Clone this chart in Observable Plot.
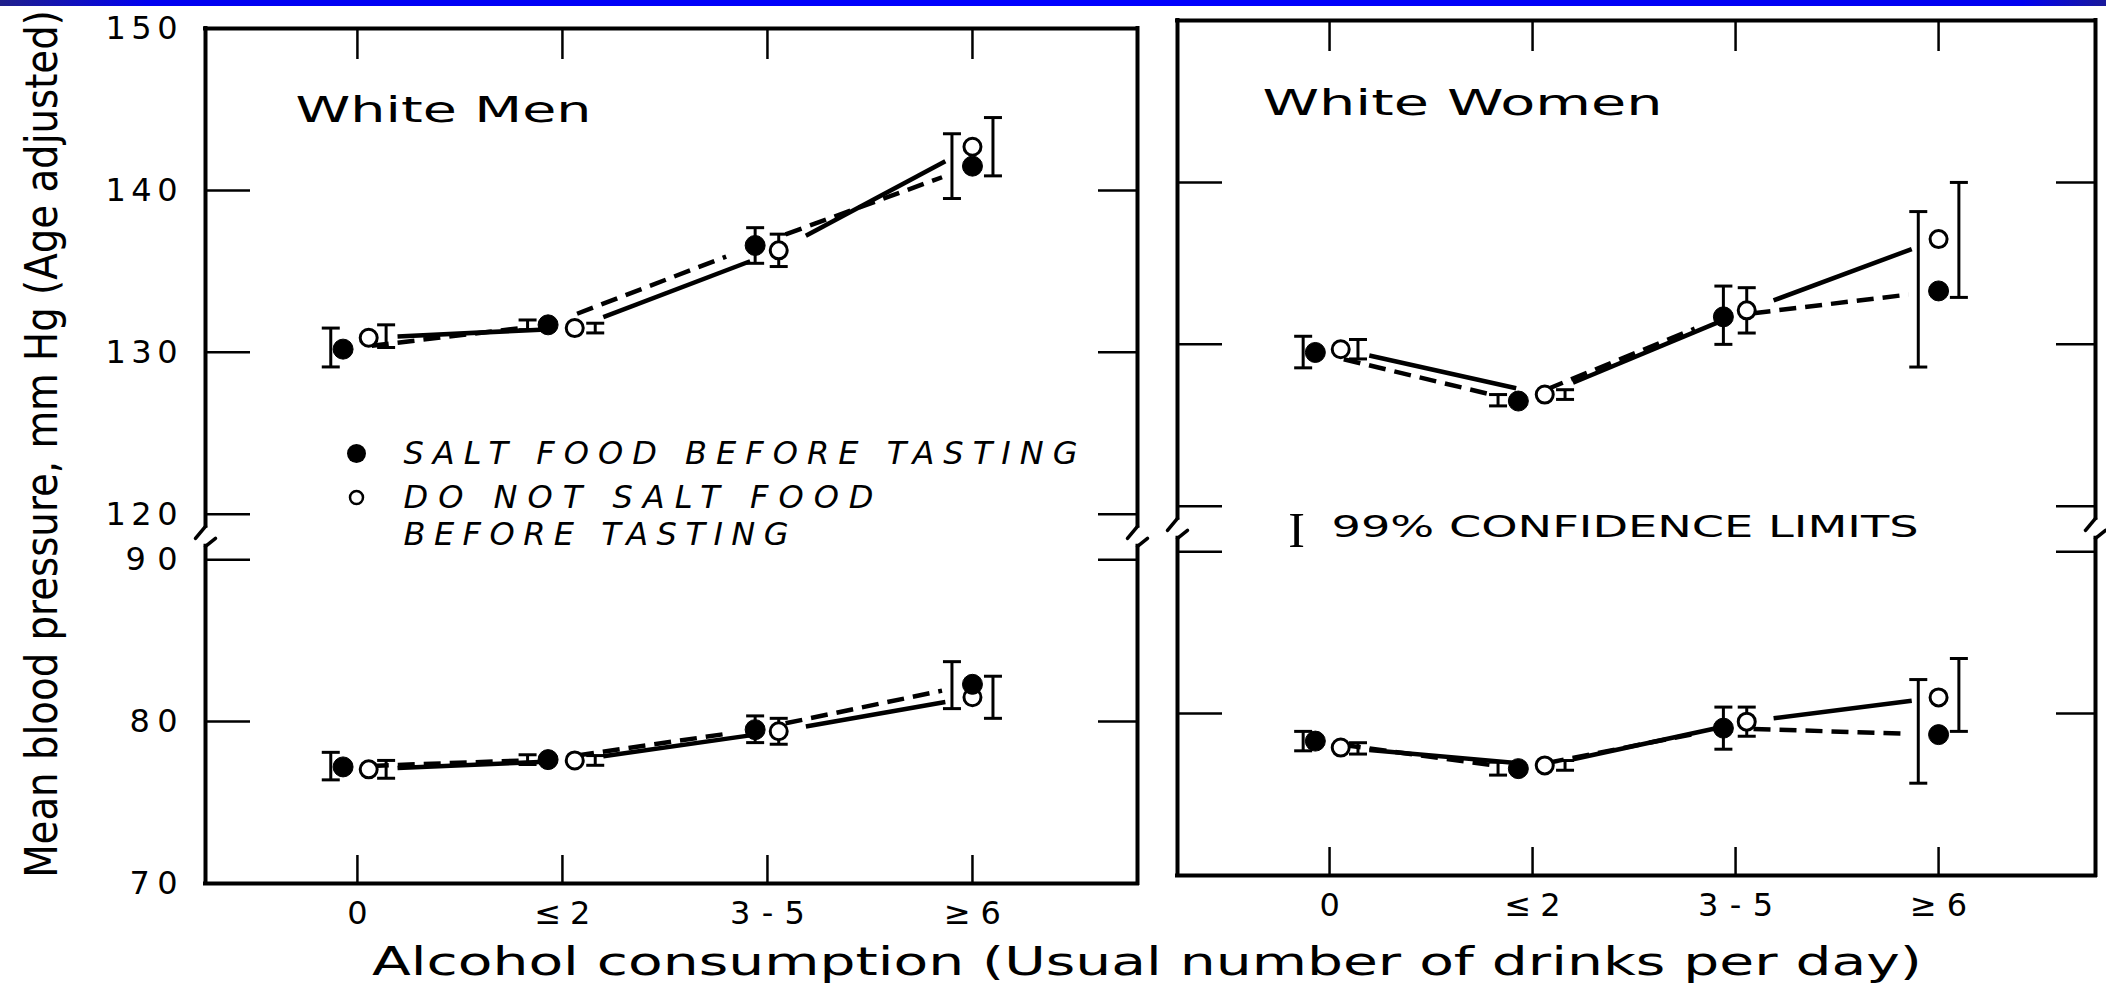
<!DOCTYPE html>
<html>
<head>
<meta charset="utf-8">
<script src="https://cdn.jsdelivr.net/npm/d3@7"></script>
<script src="https://cdn.jsdelivr.net/npm/@observablehq/plot@0.6"></script>
<style>
  html, body { margin: 0; padding: 0; background: #fff; }
  #root { position: relative; width: 2106px; height: 987px; overflow: hidden; background: #fff; }
  #bar { position: absolute; left: 0; top: 0; width: 2106px; height: 6px;
         background: linear-gradient(to right, #20208a 0%, #0000f0 7%, #0000ff 50%, #0000f0 96%, #1a1a9a 100%); }
  .panel { position: absolute; top: 0; }
  #xtitle { position: absolute; left: 0; top: 935px; }
</style>
</head>
<body>
<div id="root">
  <div id="left" class="panel" style="left:0;width:1157px"></div>
  <div id="right" class="panel" style="left:1157px;width:949px"></div>
  <div id="xtitle"></div>
  <div id="bar"></div>
</div>
<script>
// ---------------- data ----------------
const categories = ["0", "≤2", "3-5", "≥6"];
const yTickValues = [70, 80, 90, 120, 130, 140, 150];
const yTitle = "Mean blood pressure, mm Hg (Age adjusted)";
const xTitle = "Alcohol consumption (Usual number of drinks per day)";
const legendSalt = "SALT FOOD BEFORE TASTING";
const legendNoSalt1 = "DO NOT SALT FOOD";
const legendNoSalt2 = "BEFORE TASTING";
const legendCI = "99% CONFIDENCE LIMITS";

// White men, systolic (upper section)
const menSysSalt     = [130.2, 131.7, 136.6, 141.5];
const menSysSaltCI   = [[129.1, 131.5], [131.4, 132.0], [135.5, 137.7], [139.5, 143.5]];
const menSysNoSalt   = [130.9, 131.5, 136.3, 142.7];
const menSysNoSaltCI = [[130.3, 131.7], [131.2, 131.8], [135.3, 137.3], [140.9, 144.5]];
// White men, diastolic (lower section)
const menDiaSalt     = [77.2, 77.65, 79.5, 82.3];
const menDiaSaltCI   = [[76.4, 78.1], [77.35, 77.95], [78.7, 80.35], [80.8, 83.7]];
const menDiaNoSalt   = [77.05, 77.6, 79.4, 81.5];
const menDiaNoSaltCI = [[76.5, 77.6], [77.3, 77.9], [78.6, 80.2], [80.2, 82.8]];
// White women, systolic
const womenSysSalt     = [129.5, 126.5, 131.7, 133.3];
const womenSysSaltCI   = [[128.55, 130.5], [126.2, 126.9], [130.0, 133.6], [128.6, 138.2]];
const womenSysNoSalt   = [129.7, 126.9, 132.1, 136.5];
const womenSysNoSaltCI = [[129.1, 130.3], [126.6, 127.2], [130.7, 133.5], [132.9, 140.0]];
// White women, diastolic
const womenDiaSalt     = [78.3, 76.6, 79.1, 78.7];
const womenDiaSaltCI   = [[77.7, 78.9], [76.2, 77.0], [77.8, 80.4], [75.7, 82.1]];
const womenDiaNoSalt   = [77.9, 76.8, 79.5, 81.0];
const womenDiaNoSaltCI = [[77.5, 78.2], [76.5, 77.1], [78.6, 80.4], [78.9, 83.4]];

// ---------------- layout constants ----------------
const FONT = "'DejaVu Sans', Lato, sans-serif";
const BREAK_LO = 90, BREAK_HI = 120, GAP = 2.8;
const yv = v => v > (BREAK_LO + BREAK_HI) / 2 ? v - (BREAK_HI - BREAK_LO) + GAP : v;
const yr = v => v > BREAK_LO + GAP / 2 ? Math.round(v + (BREAK_HI - BREAK_LO) - GAP) : Math.round(v);
// horizontal jitter (fraction of a category step) for the two groups
const dotShift = {salt: [-0.07, -0.07, -0.06, 0.0], nosalt: [0.055, 0.06, 0.055, 0.0]};
const barShift = {salt: [-0.13, -0.17, -0.06, -0.1], nosalt: [0.14, 0.16, 0.055, 0.1]};
const textWidths = {
  "150": 72, "140": 72, "130": 72, "120": 72, "90": 52, "80": 48, "70": 48,
  "≤2": 56, "3-5": 75, "≥6": 57,
  [legendSalt]: 674, [legendNoSalt1]: 470, [legendNoSalt2]: 385
};
const stretchWidths = {"White Men": 296, "White Women": 400, [legendCI]: 587};

function rowsFor(means, cis, group) {
  return means.map((m, i) => ({i, group, mean: m, lo: cis[i][0], hi: cis[i][1]}));
}
function segmentsFor(rows) {
  const out = [];
  for (let k = 0; k < rows.length - 1; k++) {
    const a = rows[k], b = rows[k + 1];
    const xa = a.i + dotShift[a.group][a.i], xb = b.i + dotShift[b.group][b.i];
    const ya = yv(a.mean), yb = yv(b.mean), f = 0.14;
    out.push({group: a.group, x1: xa + f * (xb - xa), y1: ya + f * (yb - ya), x2: xb - f * (xb - xa), y2: yb - f * (yb - ya)});
  }
  return out;
}

function fitTexts(svg) {
  d3.select(svg).selectAll("text").each(function () {
    const t = this.textContent;
    if (this.childElementCount !== 0) return;
    if (textWidths[t] !== undefined) {
      this.setAttribute("textLength", textWidths[t]);
      this.setAttribute("lengthAdjust", "spacing");
    } else if (stretchWidths[t] !== undefined) {
      this.setAttribute("textLength", stretchWidths[t]);
      this.setAttribute("lengthAdjust", "spacingAndGlyphs");
    }
  });
}

function makePanel(cfg) {
  const {series, xDomain, width, height, mt, mb, ml, mr, extra, yLabels} = cfg;
  const rows = series.flat();
  const segs = series.flatMap(segmentsFor);
  const [xa, xb] = xDomain;
  const yTop = yv(150), yBot = 70;
  const pxX = (width - ml - mr) / (xb - xa);
  const pxY = (height - mt - mb) / (yTop - yBot);
  const bA = yv(BREAK_HI) - 12 / pxY, bB = bA - 12 / pxY, bC = bB - 8 / pxY;
  const hx = 10 / pxX, cap = 9 / pxX;
  const hooks = [xa, xb].flatMap(bx => [
    {x1: bx, y1: bA, x2: bx - hx, y2: bB},
    {x1: bx + hx, y1: bB, x2: bx, y2: bC}
  ]);
  const caps = rows.flatMap(d => {
    const bx = d.i + barShift[d.group][d.i];
    return [yv(d.lo), yv(d.hi)].map(y => ({x1: bx - cap, x2: bx + cap, y}));
  });
  const ticksV = yTickValues.map(yv);
  const xt = categories.map((c, i) => i);
  const svg = Plot.plot({
    width, height, marginTop: mt, marginBottom: mb, marginLeft: ml, marginRight: mr,
    style: `font-family:${FONT};max-width:none;overflow:visible;background:transparent;color:#000`,
    x: {domain: xDomain},
    y: {domain: [yBot, yTop]},
    marks: [
      // axes (ticks inward)
      Plot.axisY(ticksV, {anchor: "left", tickSize: -45, tickPadding: 73, strokeWidth: 2.5, fontSize: 32, label: null,
        tickFormat: yLabels ? (v => String(yr(v))) : (() => "")}),
      Plot.axisY(ticksV, {anchor: "right", tickSize: -40, strokeWidth: 2.5, label: null, tickFormat: () => ""}),
      Plot.axisX(xt, {anchor: "bottom", tickSize: -28, tickPadding: 46, strokeWidth: 2.5, fontSize: 32, label: null,
        tickFormat: i => categories[i]}),
      Plot.axisX(xt, {anchor: "top", tickSize: -30, strokeWidth: 2.5, label: null, tickFormat: () => ""}),
      // frame with axis break
      Plot.ruleY([yTop, yBot], {x1: xa, x2: xb, strokeWidth: 4, strokeLinecap: "square"}),
      Plot.ruleX([xa, xb], {y1: bA, y2: yTop, strokeWidth: 4, strokeLinecap: "square"}),
      Plot.ruleX([xa, xb], {y1: yBot, y2: bC, strokeWidth: 4, strokeLinecap: "square"}),
      Plot.link(hooks, {x1: "x1", y1: "y1", x2: "x2", y2: "y2", strokeWidth: 3.5, strokeLinecap: "round"}),
      // connecting lines
      Plot.link(segs.filter(d => d.group === "salt"), {x1: "x1", y1: "y1", x2: "x2", y2: "y2", strokeWidth: 4.5, strokeDasharray: "17,9"}),
      Plot.link(segs.filter(d => d.group === "nosalt"), {x1: "x1", y1: "y1", x2: "x2", y2: "y2", strokeWidth: 4.5}),
      // 99% confidence limits
      Plot.ruleX(rows, {x: d => d.i + barShift[d.group][d.i], y1: d => yv(d.lo), y2: d => yv(d.hi), strokeWidth: 3}),
      Plot.link(caps, {x1: "x1", x2: "x2", y1: "y", y2: "y", strokeWidth: 3}),
      // means
      Plot.dot(rows.filter(d => d.group === "nosalt"), {x: d => d.i + dotShift.nosalt[d.i], y: d => yv(d.mean), r: 8.5, fill: "white", stroke: "black", strokeWidth: 3}),
      Plot.dot(rows.filter(d => d.group === "salt"), {x: d => d.i + dotShift.salt[d.i], y: d => yv(d.mean), r: 10, fill: "black", stroke: "black", strokeWidth: 1}),
      ...extra
    ]
  });
  fitTexts(svg);
  return svg;
}

const t = (txt, dx, dy, opts = {}) => Plot.text([txt], {frameAnchor: "top-left", dx, dy, text: d => d, textAnchor: "start", lineAnchor: "middle", fill: "black", ...opts});

const leftSvg = makePanel({
  series: [
    rowsFor(menSysSalt, menSysSaltCI, "salt"), rowsFor(menSysNoSalt, menSysNoSaltCI, "nosalt"),
    rowsFor(menDiaSalt, menDiaSaltCI, "salt"), rowsFor(menDiaNoSalt, menDiaNoSaltCI, "nosalt")
  ],
  xDomain: [-0.741, 3.805], width: 1157, height: 935, mt: 28, mb: 52, ml: 205, mr: 20, yLabels: true,
  extra: [
    t("White Men", 90, 82, {fontSize: 36}),
    Plot.dot([0], {frameAnchor: "top-left", dx: 151, dy: 425, r: 9.5, fill: "black"}),
    t(legendSalt, 198, 425, {fontSize: 32, fontStyle: "italic"}),
    Plot.dot([0], {frameAnchor: "top-left", dx: 151, dy: 469, r: 6.5, fill: "white", stroke: "black", strokeWidth: 2.5}),
    t(legendNoSalt1, 198, 469, {fontSize: 32, fontStyle: "italic"}),
    t(legendNoSalt2, 198, 506, {fontSize: 32, fontStyle: "italic"}),
    Plot.text([yTitle], {frameAnchor: "left", dx: -163, dy: -12, rotate: -90, text: d => d, fontSize: 44, textAnchor: "middle", lineAnchor: "middle", fill: "black"})
  ]
});
// condense the rotated y title along its reading direction
d3.select(leftSvg).selectAll("text").filter(function () { return this.textContent === yTitle; })
  .each(function () {
    const tr = this.getAttribute("transform") || "";
    this.setAttribute("transform", tr + " scale(0.88,1)");
  });
document.getElementById("left").appendChild(leftSvg);

const rightSvg = makePanel({
  series: [
    rowsFor(womenSysSalt, womenSysSaltCI, "salt"), rowsFor(womenSysNoSalt, womenSysNoSaltCI, "nosalt"),
    rowsFor(womenDiaSalt, womenDiaSaltCI, "salt"), rowsFor(womenDiaNoSalt, womenDiaNoSaltCI, "nosalt")
  ],
  xDomain: [-0.749, 3.773], width: 949, height: 935, mt: 20, mb: 60, ml: 20, mr: 11, yLabels: false,
  extra: [
    t("White Women", 85, 83, {fontSize: 36}),
    Plot.text(["I"], {frameAnchor: "top-left", dx: 119, dy: 510, text: d => d, fontSize: 50, fontFamily: "'Liberation Serif', serif", textAnchor: "middle", lineAnchor: "middle", fill: "black"}),
    t(legendCI, 154, 507, {fontSize: 31})
  ]
});
document.getElementById("right").appendChild(rightSvg);

// x-axis title (caption below both panels)
const cap = d3.select("#xtitle").append("svg").attr("width", 2106).attr("height", 52);
cap.append("text").attr("x", 372).attr("y", 40).attr("font-family", FONT).attr("font-size", 39)
  .attr("textLength", 1550).attr("lengthAdjust", "spacingAndGlyphs").attr("fill", "black").text(xTitle);
</script>
</body>
</html>
